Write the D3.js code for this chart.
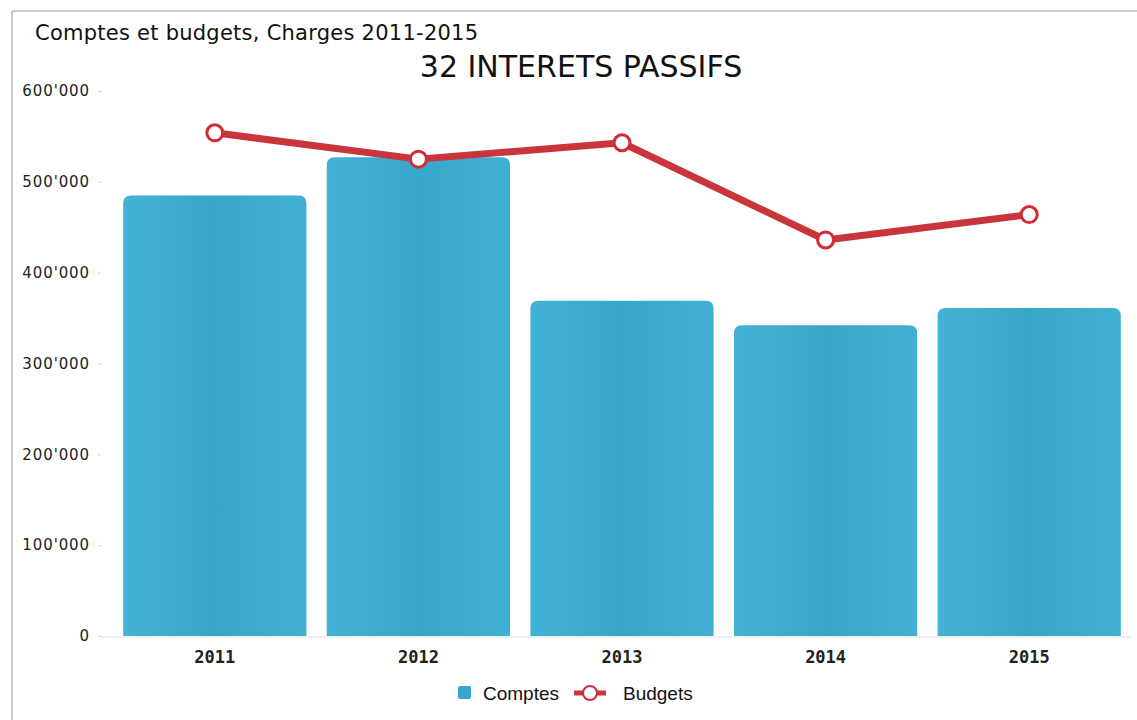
<!DOCTYPE html>
<html><head><meta charset="utf-8">
<script src="https://cdn.jsdelivr.net/npm/d3@7"></script>
<style>body{margin:0;background:#fff}</style>
</head><body>
<script>
const years = ["2011","2012","2013","2014","2015"];
const comptes = [485000, 527000, 369000, 342000, 361000];
const budgets = [554000, 525000, 543000, 436000, 464000];
const yTicks = [0,100000,200000,300000,400000,500000,600000];

const W=1137,H=720;
const svg=d3.select("body").append("svg").attr("width",W).attr("height",H);
svg.append("path").attr("d","M12,720V11H1137").attr("fill","none").attr("stroke","#999").attr("stroke-width",1);

const x=d3.scaleBand().domain(years).range([113,1131]).paddingInner(0.1).paddingOuter(0.05);
const y=d3.scaleLinear().domain([0,600000]).range([636,91]);

const fmt=v=>d3.format(",")(v).replace(/,/g,"'");
const ya=svg.append("g").attr("transform","translate(101,0)")
 .call(d3.axisLeft(y).tickValues(yTicks).tickFormat(fmt).tickSize(3).tickPadding(8));
ya.select(".domain").remove();
ya.selectAll(".tick line").attr("stroke","#ccc");
ya.selectAll("text").attr("font-family","DejaVu Sans, Verdana").attr("font-size",15).attr("letter-spacing","0.9px").attr("fill","#222");

svg.append("line").attr("x1",101).attr("x2",1131).attr("y1",637).attr("y2",637).attr("stroke","#ddd");

const xa=svg.append("g").attr("transform","translate(0,637)")
 .call(d3.axisBottom(x).tickSize(0).tickPadding(14));
xa.select(".domain").remove();
xa.selectAll("text").attr("font-family","DejaVu Sans Mono, monospace").attr("font-weight","bold").attr("font-size",17).attr("fill","#222");

const grad=svg.append("defs").append("linearGradient").attr("id","bg");
grad.append("stop").attr("offset","0%").attr("stop-color","#42b3d6");
grad.append("stop").attr("offset","50%").attr("stop-color","#36a7cb");
grad.append("stop").attr("offset","100%").attr("stop-color","#40b1d4");

svg.append("g").selectAll("path").data(years).join("path")
 .attr("fill","url(#bg)")
 .attr("d",(d,i)=>{
   const x0=x(d),x1=x0+x.bandwidth(),t=y(comptes[i]),b=y(0),r=8;
   return `M${x0},${b}V${t+r}Q${x0},${t} ${x0+r},${t}H${x1-r}Q${x1},${t} ${x1},${t+r}V${b}Z`;
 });

const cx=(d)=>x(d)+x.bandwidth()/2;
const line=d3.line().x((v,i)=>cx(years[i])).y(v=>y(v));
svg.append("path").datum(budgets).attr("d",line).attr("fill","none")
 .attr("stroke","#c9353a").attr("stroke-width",7).attr("stroke-linejoin","round");
svg.append("g").selectAll("circle").data(budgets).join("circle")
 .attr("cx",(v,i)=>cx(years[i])).attr("cy",v=>y(v)).attr("r",8)
 .attr("fill","#fff").attr("stroke","#d22b36").attr("stroke-width",3);

svg.append("text").attr("x",35).attr("y",40).text("Comptes et budgets, Charges 2011-2015")
 .attr("font-family","DejaVu Sans, Verdana").attr("font-size",21).attr("letter-spacing","0.25px").attr("fill","#111");
svg.append("text").attr("x",581).attr("y",77).attr("text-anchor","middle").text("32 INTERETS PASSIFS")
 .attr("font-family","DejaVu Sans, Verdana").attr("font-size",30).attr("fill","#111");

// legend
const lg=svg.append("g");
lg.append("rect").attr("x",458).attr("y",686).attr("width",13).attr("height",13).attr("fill","#36a7cb").attr("rx",2);
lg.append("text").attr("x",483).attr("y",700).text("Comptes").attr("font-family","Liberation Sans, Arial").attr("font-size",19).attr("fill","#111");
lg.append("line").attr("x1",574).attr("x2",606).attr("y1",693).attr("y2",693).attr("stroke","#c9353a").attr("stroke-width",5);
lg.append("circle").attr("cx",590).attr("cy",693).attr("r",7).attr("fill","#fff").attr("stroke","#d22b36").attr("stroke-width",2);
lg.append("text").attr("x",623).attr("y",700).text("Budgets").attr("font-family","Liberation Sans, Arial").attr("font-size",19).attr("fill","#111");
</script>
</body></html>
